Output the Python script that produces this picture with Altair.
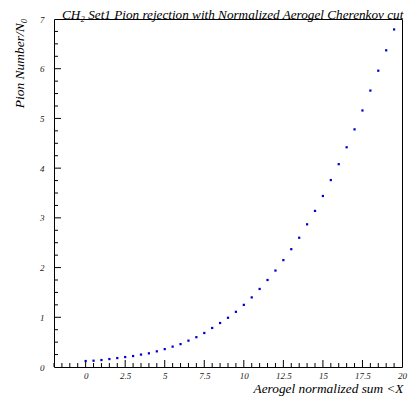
import altair as alt
import pandas as pd

# data
x_vals = [0, 0.5, 1, 1.5, 2, 2.5, 3, 3.5, 4, 4.5, 5, 5.5, 6, 6.5, 7, 7.5, 8, 8.5, 9, 9.5,
          10, 10.5, 11, 11.5, 12, 12.5, 13, 13.5, 14, 14.5, 15, 15.5, 16, 16.5, 17, 17.5,
          18, 18.5, 19, 19.5]
y_vals = [0.12, 0.127, 0.14, 0.16, 0.18, 0.20, 0.22, 0.25, 0.275, 0.315, 0.36, 0.41, 0.46,
          0.53, 0.60, 0.684, 0.785, 0.885, 0.99, 1.11, 1.25, 1.40, 1.57, 1.75, 1.94, 2.15,
          2.37, 2.60, 2.87, 3.14, 3.44, 3.76, 4.08, 4.42, 4.78, 5.16, 5.56, 5.96, 6.37, 6.79]

x_labels = [0, 2.5, 5, 7.5, 10, 12.5, 15, 17.5, 20]
y_labels = [0, 1, 2, 3, 4, 5, 6, 7]
x_major = [0, 2.5, 5, 7.5, 10, 12.5, 15, 17.5]
x_minor = [-2, -1.5, -1, -0.5, 0.5, 1, 1.5, 2, 3, 3.5, 4, 4.5, 5.5, 6, 6.5, 7, 8, 8.5, 9, 9.5,
           10.5, 11, 11.5, 12, 13, 13.5, 14, 14.5, 15.5, 16, 16.5, 17, 18, 18.5, 19, 19.5]
y_major = [1, 2, 3, 4, 5, 6]
y_minor = [0.25, 0.5, 0.75, 1.25, 1.5, 1.75, 2.25, 2.5, 2.75, 3.25, 3.5, 3.75, 4.25, 4.5, 4.75,
           5.25, 5.5, 5.75, 6.25, 6.5, 6.75]

W, H = 348, 348
FONT = "'Liberation Serif', 'DejaVu Serif', serif"

xs = alt.Scale(domain=[-2, 20], nice=False, zero=False)
ys = alt.Scale(domain=[0, 7], nice=False, zero=False)

df = pd.DataFrame({"x": x_vals, "y": y_vals})

points = alt.Chart(df).mark_square(size=5, color="#0000cc", opacity=1).encode(
    x=alt.X("x:Q", scale=xs,
            axis=alt.Axis(values=x_labels, format=".3~g", domain=False, ticks=False, grid=False,
                          labelFont=FONT, labelFontStyle="italic", labelFontSize=9,
                          labelColor="#222", labelPadding=4, labelFlush=False,
                          labelOverlap=False,
                          title="Aerogel normalized sum <X", titleFont=FONT,
                          titleFontStyle="italic", titleFontWeight="normal", titleFontSize=13.3,
                          titleAnchor="end", titleAlign="right", titleBaseline="alphabetic",
                          titleX=349, titleY=25, titleColor="#000")),
    y=alt.Y("y:Q", scale=ys,
            axis=alt.Axis(values=y_labels, domain=False, ticks=False, grid=False,
                          labelFont=FONT, labelFontStyle="italic", labelFontSize=9,
                          labelColor="#222", labelPadding=10, labelFlush=False,
                          labelOverlap=False,
                          title="Pion Number/N\u2080", titleFont=FONT,
                          titleFontStyle="italic", titleFontWeight="normal", titleFontSize=13.5,
                          titleAngle=-90, titleAlign="right", titleBaseline="alphabetic",
                          titleX=-31, titleY=-1, titleColor="#000")),
)

xmaj = alt.Chart(pd.DataFrame({"t": x_major})).mark_rule(color="black", strokeWidth=1).encode(
    x=alt.X("t:Q", scale=xs), y=alt.value(H), y2=alt.value(H - 7))
xmin = alt.Chart(pd.DataFrame({"t": x_minor})).mark_rule(color="black", strokeWidth=1).encode(
    x=alt.X("t:Q", scale=xs), y=alt.value(H), y2=alt.value(H - 4))
ymaj = alt.Chart(pd.DataFrame({"t": y_major})).mark_rule(color="black", strokeWidth=1).encode(
    y=alt.Y("t:Q", scale=ys), x=alt.value(0), x2=alt.value(7))
ymin = alt.Chart(pd.DataFrame({"t": y_minor})).mark_rule(color="black", strokeWidth=1).encode(
    y=alt.Y("t:Q", scale=ys), x=alt.value(0), x2=alt.value(4))

chart = alt.layer(xmin, xmaj, ymin, ymaj, points).properties(
    width=W, height=H,
    title=alt.TitleParams(
        "CH\u2082 Set1 Pion rejection with Normalized Aerogel Cherenkov cut",
        font=FONT, fontStyle="italic", fontWeight="normal", fontSize=13.2,
        anchor="start", frame="group", dx=8, dy=9, offset=2, color="#000"),
    padding={"left": 54, "top": 19, "right": 8, "bottom": 37},
    autosize=alt.AutoSizeParams(type="none"),
    background="white",
).configure_view(stroke="black", strokeWidth=1)

chart.save("out.html", embed_options={"renderer": "svg", "actions": False})
